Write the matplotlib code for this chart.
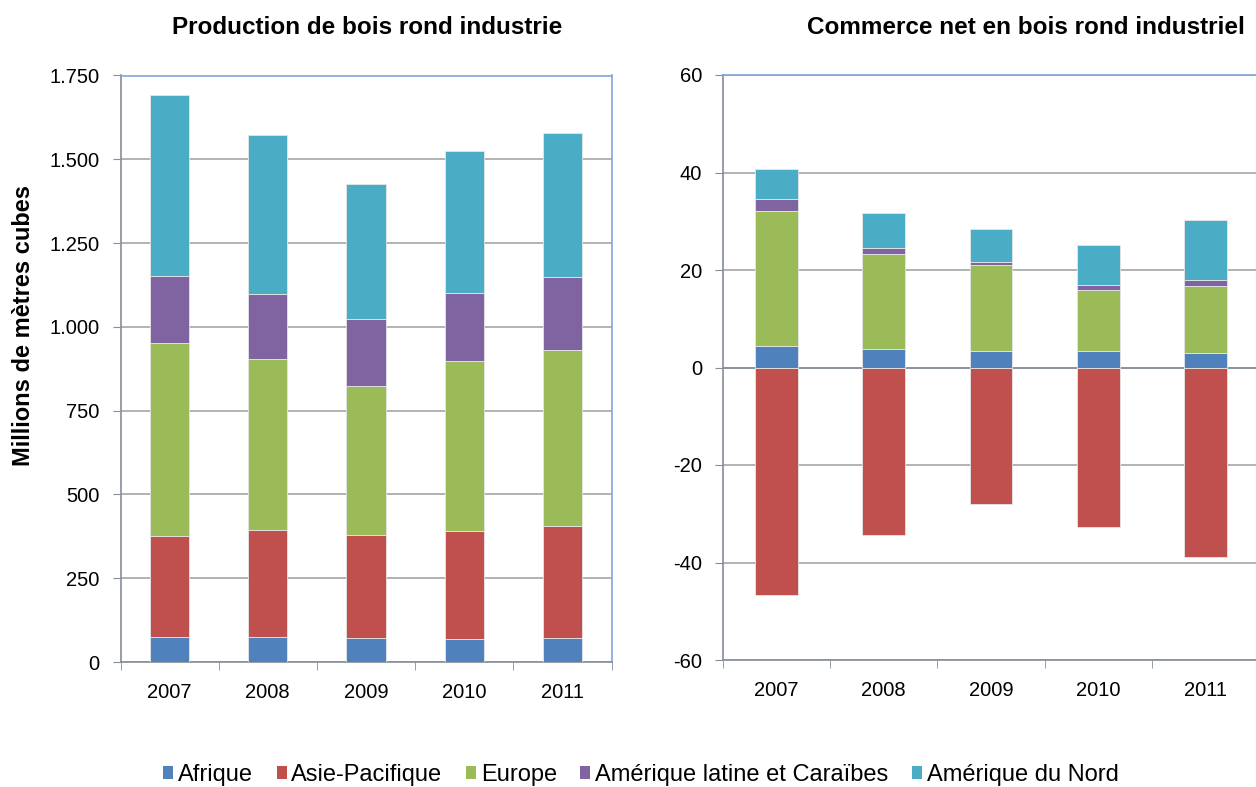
import matplotlib
matplotlib.use("Agg")
import matplotlib.pyplot as plt
import numpy as np
from matplotlib.patches import Patch
from matplotlib import font_manager

plt.rcParams['font.family'] = ['Liberation Sans', 'DejaVu Sans']

years = ['2007', '2008', '2009', '2010', '2011']
regions = ['Afrique', 'Asie-Pacifique', 'Europe', 'Amérique latine et Caraïbes', 'Amérique du Nord']
colors = ['#4F81BD', '#C0504D', '#9BBB59', '#8064A2', '#4BACC6']

# Production (millions m3)
prod_afrique = [75, 75, 72, 69, 72]
prod_asie = [301, 319, 307, 322, 334]
prod_europe = [576, 510, 445, 507, 525]
prod_latam = [200, 194, 200, 203, 218]
prod_nord = [540, 475, 402, 424, 430]

# Net trade (millions m3)
net_afrique = [4.4, 3.8, 3.3, 3.3, 2.9]
net_asie = [-46.6, -34.3, -27.9, -32.8, -38.9]
net_europe = [27.8, 19.5, 17.8, 12.7, 13.9]
net_latam = [2.3, 1.3, 0.6, 1.0, 1.2]
net_nord = [6.2, 7.1, 6.8, 8.2, 12.2]

fig = plt.figure(figsize=(12.56, 7.87), dpi=100)
W, H = 1256, 787

def ax_at(x0, y0, x1, y1):
    return fig.add_axes([x0 / W, 1 - y1 / H, (x1 - x0) / W, (y1 - y0) / H])

ax1 = ax_at(120.5, 75.5, 611.5, 662)
ax2 = ax_at(723, 75, 1259, 660)

grid_c = '#A6A6A6'
axis_c = '#868E96'
blue_c = '#7EA6D8'
tick_fs = 14.5
edge = dict(edgecolor='#E6E6E6', linewidth=0.6)

x = np.arange(len(years))
bw = 0.4

# Left chart
prod = [prod_afrique, prod_asie, prod_europe, prod_latam, prod_nord]
bottom = np.zeros(len(years))
for vals, c in zip(prod, colors):
    ax1.bar(x, vals, bw, bottom=bottom, color=c, zorder=3, **edge)
    bottom += np.array(vals)
ax1.set_ylim(0, 1750)
ax1.set_yticks(np.arange(0, 1751, 250))
ax1.set_yticklabels(['0', '250', '500', '750', '1.000', '1.250', '1.500', '1.750'])

# Right chart
net = [net_afrique, net_asie, net_europe, net_latam, net_nord]
pos_bottom = np.zeros(len(years))
neg_bottom = np.zeros(len(years))
for vals, c in zip(net, colors):
    v = np.array(vals)
    b = np.where(v >= 0, pos_bottom, neg_bottom)
    ax2.bar(x, v, bw, bottom=b, color=c, zorder=3, **edge)
    pos_bottom += np.where(v >= 0, v, 0)
    neg_bottom += np.where(v < 0, v, 0)
ax2.set_ylim(-60, 60)
ax2.set_yticks(np.arange(-60, 61, 20))
ax2.set_yticklabels([str(v) for v in range(-60, 61, 20)])

for ax in (ax1, ax2):
    ax.set_xlim(-0.5, len(years) - 0.5)
    ax.set_xticks(x)
    ax.set_xticklabels(years, fontsize=tick_fs)
    ax.set_xticks(np.arange(-0.5, len(years), 1), minor=True)
    ax.tick_params(axis='x', which='major', length=0, pad=15)
    ax.tick_params(axis='x', which='minor', length=6, color=axis_c, direction='out')
    ax.tick_params(axis='y', length=6, color=axis_c, labelsize=tick_fs, pad=9)
    ax.yaxis.grid(True, color=grid_c, linewidth=1.2, zorder=0)
    ax.set_axisbelow(True)
    ax.spines['left'].set_color(axis_c)
    ax.spines['bottom'].set_color(axis_c)
    ax.spines['top'].set_color(blue_c)
    ax.spines['right'].set_color(blue_c)
    for s in ax.spines.values():
        s.set_linewidth(1.2)

ax2.axhline(0, color=axis_c, linewidth=1.2, zorder=2)

fig.text(367 / W, 1 - 28 / H, 'Production de bois rond industrie', ha='center', va='center',
         fontsize=17.5, fontweight='bold')
fig.text(1026 / W, 1 - 28 / H, 'Commerce net en bois rond industriel', ha='center', va='center',
         fontsize=17.5, fontweight='bold')
fig.text(24 / W, 1 - 326 / H, 'Millions de mètres cubes', ha='center', va='center',
         rotation=90, fontsize=17, fontweight='bold')

names = {f.name for f in font_manager.fontManager.ttflist}
if 'Liberation Sans Narrow' in names:
    leg_family, leg_size = 'Liberation Sans Narrow', 20.5
else:
    leg_family, leg_size = 'Liberation Sans', 17

handles = [Patch(facecolor=c, edgecolor='none') for c in colors]
fig.legend(handles, regions, loc='center', bbox_to_anchor=(641 / W, 1 - 775 / H), ncol=5,
           frameon=False, prop={'family': leg_family, 'size': leg_size},
           handlelength=0.42, handleheight=0.42,
           handletextpad=0.2, columnspacing=1.0)

fig.savefig('out.png', dpi=100)
